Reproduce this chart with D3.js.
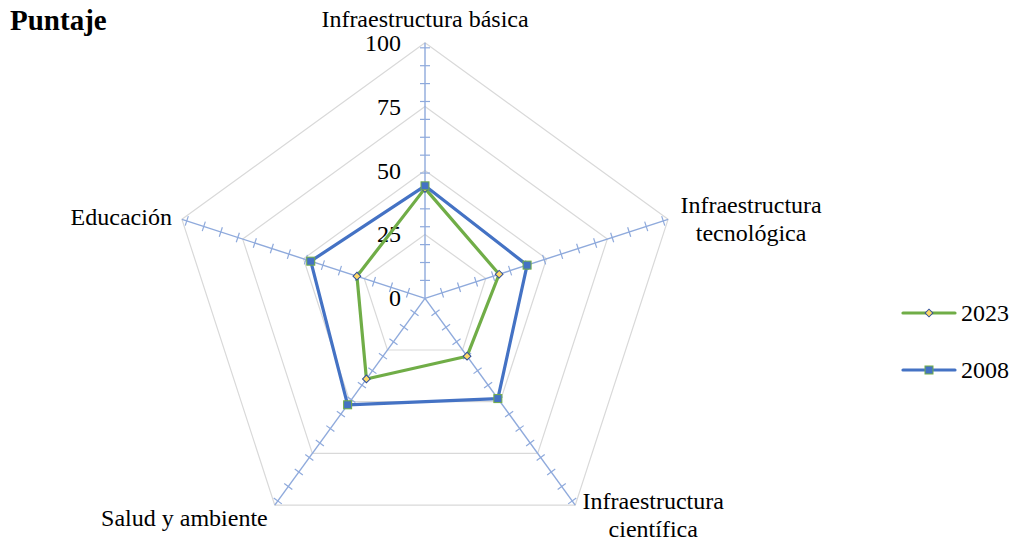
<!DOCTYPE html>
<html><head><meta charset="utf-8">
<script src="https://cdn.jsdelivr.net/npm/d3@7"></script>
<style>body{margin:0;background:#fff}svg{display:block}</style>
</head><body>
<svg id="c" width="1012" height="541" font-family="'Liberation Serif', 'Times New Roman', Times, serif"></svg>
<script>
const categories = ["Infraestructura básica", "Infraestructura tecnológica", "Infraestructura científica", "Salud y ambiente", "Educación"];
const series2023 = [43, 30.5, 28, 39, 28];
const series2008 = [44, 42, 48.5, 51.5, 47];
const seriesNames = ["2023", "2008"];
const gridTicks = [0, 25, 50, 75, 100];
const minorStep = 7;

const svg = d3.select("#c");
const cx = 425, cy = 298.3, R = 255.6;
const r = d3.scaleLinear().domain([0, 100]).range([0, R]);
const ang = d3.scaleLinear().domain([0, categories.length]).range([0, 2 * Math.PI]);
const pt = (i, v) => [cx + r(v) * Math.sin(ang(i)), cy - r(v) * Math.cos(ang(i))];
const FS = 24;

const g = svg.append("g");
gridTicks.filter(t => t > 0).forEach(t => {
  g.append("path")
    .attr("d", d3.line()(categories.map((c, i) => pt(i, t))) + "Z")
    .attr("fill", "none").attr("stroke", "#d9d9d9").attr("stroke-width", 1.2);
});
const minorTicks = d3.range(minorStep, 100, minorStep);
categories.forEach((c, i) => {
  const [x1, y1] = pt(i, 100);
  g.append("line").attr("x1", cx).attr("y1", cy).attr("x2", x1).attr("y2", y1)
    .attr("stroke", "#8faadc").attr("stroke-width", 1.4);
  const a = ang(i);
  const px = Math.cos(a), py = Math.sin(a);
  minorTicks.forEach(t => {
    const [x, y] = pt(i, t);
    g.append("line").attr("x1", x - 5 * px).attr("y1", y - 5 * py)
      .attr("x2", x + 5 * px).attr("y2", y + 5 * py)
      .attr("stroke", "#8faadc").attr("stroke-width", 1.2);
  });
});
gridTicks.forEach(t => {
  g.append("text").attr("x", 401).attr("y", cy - r(t) + 8)
    .attr("text-anchor", "end").attr("font-size", FS).attr("fill", "#000").text(t);
});
const labelSpec = [
  {lines: ["Infraestructura básica"], dx: 0, dy: -16, anchor: "middle"},
  {lines: ["Infraestructura", "tecnológica"], dx: 83, dy: -6, anchor: "middle"},
  {lines: ["Infraestructura", "científica"], dx: 78, dy: 4, anchor: "middle"},
  {lines: ["Salud y ambiente"], dx: -7, dy: 21, anchor: "end"},
  {lines: ["Educación"], dx: -10, dy: 6, anchor: "end"}
];
categories.forEach((c, i) => {
  const [x, y] = pt(i, 100);
  const s = labelSpec[i];
  const t = g.append("text").attr("x", x + s.dx).attr("y", y + s.dy)
    .attr("text-anchor", s.anchor).attr("font-size", FS).attr("fill", "#000");
  s.lines.forEach((l, k) => t.append("tspan").attr("x", x + s.dx).attr("dy", k === 0 ? 0 : 28).text(l));
});

const colors = {"2023": "#70ad47", "2008": "#4472c4"};
const data = {"2023": series2023, "2008": series2008};
function marker(sel, name, x, y) {
  if (name === "2023") {
    sel.append("path").attr("d", d3.symbol().type(d3.symbolSquare).size(30)())
      .attr("transform", `translate(${x},${y}) rotate(45)`)
      .attr("fill", "#ffd966").attr("stroke", "#2f4f9a").attr("stroke-width", 1);
  } else {
    sel.append("rect").attr("x", x - 4).attr("y", y - 4).attr("width", 8).attr("height", 8)
      .attr("fill", "#4472c4").attr("stroke", "#70ad47").attr("stroke-width", 1);
  }
}
seriesNames.forEach(name => {
  const vals = data[name];
  const pts = vals.map((v, i) => pt(i, v));
  g.append("path").attr("d", d3.line()(pts) + "Z").attr("fill", "none")
    .attr("stroke", colors[name]).attr("stroke-width", 3.2).attr("stroke-linejoin", "round");
  pts.forEach(p => marker(g, name, p[0], p[1]));
});
seriesNames.forEach((name, k) => {
  const y = 313 + k * 57;
  g.append("line").attr("x1", 903).attr("x2", 955).attr("y1", y).attr("y2", y)
    .attr("stroke", colors[name]).attr("stroke-width", 3.2).attr("stroke-linecap", "round");
  marker(g, name, 929, y);
  g.append("text").attr("x", 961).attr("y", y + 8).attr("font-size", FS).attr("fill", "#000").text(name);
});
svg.append("text").attr("x", 10).attr("y", 30).attr("font-size", 29).attr("font-weight", "bold").attr("fill", "#000").text("Puntaje");
</script>
</body></html>
